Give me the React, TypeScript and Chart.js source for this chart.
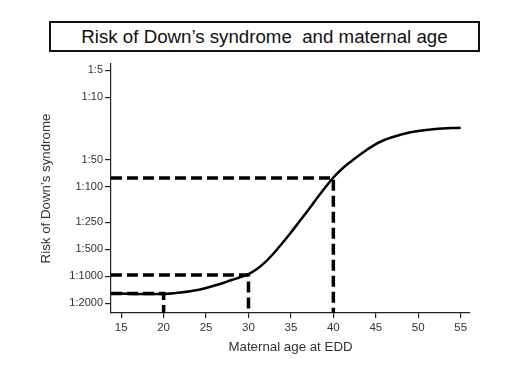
import React, { useEffect, useRef } from "react";
import { Chart, registerables } from "chart.js";

Chart.register(...registerables);

// Maternal age (years) and risk expressed as 1:N (N values)
const ages = [15, 17, 20, 22, 24, 26, 27, 28, 29, 30, 31, 32, 33, 34, 35, 36, 37, 38, 39, 40, 41, 42, 43, 44, 45, 46, 47, 48, 50, 52, 55];
const riskDenominators = [1562, 1580, 1580, 1522, 1427, 1272, 1192, 1104, 1029, 946, 832, 694, 551, 426, 325, 245, 185, 137, 103.5, 79, 63.5, 53, 44.8, 38.4, 33.4, 30.1, 27.9, 26.1, 23.9, 22.7, 21.9];

// Reference (dashed) read-offs
const markerAges = [20, 30, 40];
const markerRisks = [1565, 970, 80];

const yTickValues = [5, 10, 50, 100, 250, 500, 1000, 2000];
const xTickValues = [15, 20, 25, 30, 35, 40, 45, 50, 55];

const titleText = "Risk of Down’s syndrome  and maternal age";
const xTitle = "Maternal age at EDD";
const yTitle = "Risk of Down’s syndrome";

const X_MIN = 13.8;
const X_MAX = 56.1;
const Y_MIN = 4.26;
const Y_MAX = 2580;

const FONT = "'Liberation Sans', Arial, sans-serif";

export default function App() {
  const canvasRef = useRef<HTMLCanvasElement | null>(null);

  useEffect(() => {
    const canvas = canvasRef.current;
    if (!canvas) return;

    const curve = ages.map((a, i) => ({ x: a, y: riskDenominators[i] }));
    const markerSets = markerAges.map((a, i) => ({
      data: [
        { x: X_MIN, y: markerRisks[i] },
        { x: a, y: markerRisks[i] },
        { x: a, y: Y_MAX },
      ],
      borderColor: "#000",
      borderWidth: 3.5,
      borderDash: [11, 5],
      pointRadius: 0,
      tension: 0,
      fill: false,
    }));

    const chart = new Chart(canvas, {
      type: "line",
      data: {
        datasets: [
          {
            data: curve,
            borderColor: "#000",
            borderWidth: 2.5,
            pointRadius: 0,
            cubicInterpolationMode: "monotone",
            fill: false,
          },
          ...markerSets,
        ] as any,
      },
      options: {
        animation: false,
        responsive: false,
        maintainAspectRatio: false,
        layout: { padding: { top: 64, right: 60, bottom: 0, left: 0 } },
        plugins: {
          legend: { display: false },
          title: { display: false },
          tooltip: { enabled: false },
        },
        scales: {
          x: {
            type: "linear",
            min: X_MIN,
            max: X_MAX,
            afterFit: (s: any) => {
              s.height = 54;
            },
            afterBuildTicks: (s: any) => {
              s.ticks = xTickValues.map((v) => ({ value: v }));
            },
            grid: {
              drawOnChartArea: false,
              drawTicks: true,
              tickLength: 5,
              color: "#222",
              lineWidth: 1.2,
            },
            border: { display: true, color: "#222", width: 1.2 },
            ticks: {
              color: "#333",
              padding: 3,
              maxRotation: 0,
              autoSkip: false,
              font: { family: FONT, size: 11.5 },
            },
            title: {
              display: true,
              text: xTitle,
              color: "#333",
              font: { family: FONT, size: 13.3 },
              padding: { top: 0, bottom: 12 },
            },
          },
          y: {
            type: "logarithmic",
            reverse: true,
            min: Y_MIN,
            max: Y_MAX,
            afterFit: (s: any) => {
              s.width = 111;
            },
            afterBuildTicks: (s: any) => {
              s.ticks = yTickValues.map((v) => ({ value: v }));
            },
            grid: {
              drawOnChartArea: false,
              drawTicks: true,
              tickLength: 6,
              color: "#222",
              lineWidth: 1.2,
            },
            border: { display: true, color: "#222", width: 1.2 },
            ticks: {
              color: "#333",
              padding: 2,
              autoSkip: false,
              font: { family: FONT, size: 11 },
              callback: (v: any) => "1:" + v,
            },
            title: {
              display: true,
              text: yTitle,
              color: "#333",
              font: { family: FONT, size: 13.3 },
              padding: { top: 38, bottom: 0 },
            },
          },
        },
      },
    });

    return () => chart.destroy();
  }, []);

  return (
    <div style={{ position: "absolute", left: 0, top: 0, width: 530, height: 367, background: "#fff" }}>
      <canvas ref={canvasRef} width={530} height={367} style={{ position: "absolute", left: 0, top: 0, width: 530, height: 367 }} />
      <div
        style={{
          position: "absolute",
          left: 49,
          top: 21,
          width: 431,
          height: 31,
          boxSizing: "border-box",
          border: "2px solid #111",
          display: "flex",
          alignItems: "center",
          justifyContent: "center",
          paddingTop: 1,
          fontFamily: FONT,
          fontSize: 18.7,
          color: "#111",
          whiteSpace: "pre",
          background: "#fff",
        }}
      >
        {titleText}
      </div>
    </div>
  );
}
